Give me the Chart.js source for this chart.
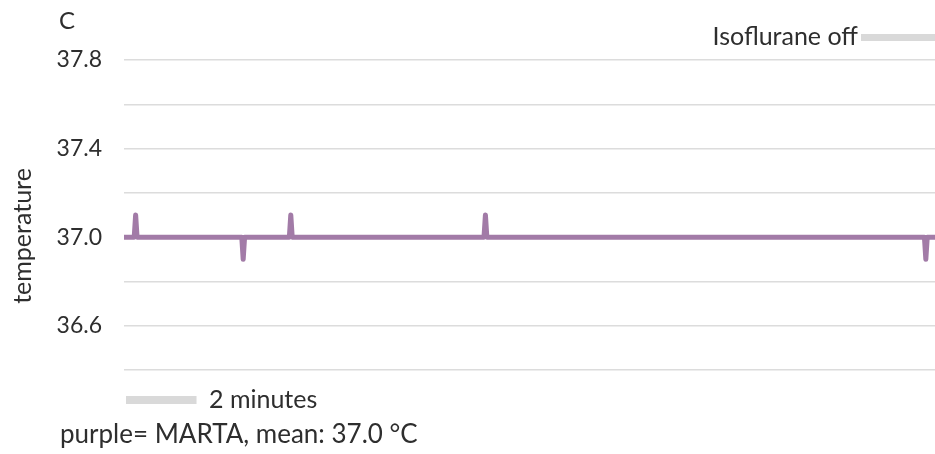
<!DOCTYPE html>
<html>
<head>
<meta charset="utf-8">
<script src="https://cdn.jsdelivr.net/npm/chart.js@4/dist/chart.umd.min.js"></script>
<style>
  html, body { margin: 0; padding: 0; background: #fff; }
  #wrap { width: 935px; height: 454px; }
</style>
</head>
<body>
<div id="wrap"><canvas id="chart" width="935" height="454"></canvas></div>
<script>
// time in minutes, temperature in °C
const timeMin = [0, 0.29, 0.33, 0.37, 3.34, 3.38, 3.42, 4.69, 4.73, 4.77, 10.21, 10.25, 10.29, 22.70, 22.74, 22.78, 23];
const tempC   = [37.0, 37.0, 37.1, 37.0, 37.0, 36.9, 37.0, 37.0, 37.1, 37.0, 37.0, 37.1, 37.0, 37.0, 36.9, 37.0, 37.0];
const tickLabels = ['37.8', '37.4', '37.0', '36.6'];
const scaleBarMinutes = 2;

const FONT = 'Lato, "Noto Sans", sans-serif';
const TEXT = '#2e2e2e';
const GREY_BAR = '#d9d9d9';

const annotations = {
    id: 'annotations',
    afterDraw(chart) {
        const ctx = chart.ctx;
        const x = chart.scales.x;
        const area = chart.chartArea;
        ctx.save();
        ctx.fillStyle = TEXT;
        ctx.textBaseline = 'middle';

        // panel letter
        ctx.font = '24px ' + FONT;
        ctx.textAlign = 'left';
        ctx.fillText('C', 59, 21);

        // isoflurane marker
        ctx.font = '25px ' + FONT;
        ctx.textAlign = 'right';
        ctx.fillText('Isoflurane off', 858, 37);
        ctx.fillStyle = GREY_BAR;
        ctx.fillRect(861, 34, area.right - 861, 7);

        // time scale bar
        const x0 = x.getPixelForValue(0) + 2;
        const x1 = x.getPixelForValue(scaleBarMinutes) + 2;
        ctx.fillRect(x0, 396, x1 - x0, 8);
        ctx.fillStyle = TEXT;
        ctx.textAlign = 'left';
        ctx.fillText('2 minutes', 209, 400);

        // footer
        ctx.font = '26px ' + FONT;
        ctx.fillText('purple= MARTA, mean: 37.0 °C', 60, 435);

        // axis title
        ctx.font = '25px ' + FONT;
        ctx.translate(23, 236);
        ctx.rotate(-Math.PI / 2);
        ctx.textAlign = 'center';
        ctx.fillText('temperature', 0, 0);
        ctx.restore();
    }
};

new Chart(document.getElementById('chart'), {
    type: 'line',
    data: {
        datasets: [{
            data: timeMin.map((t, i) => ({ x: t, y: tempC[i] })),
            borderColor: '#a27ba7',
            borderWidth: 5,
            borderCapStyle: 'round',
            borderJoinStyle: 'round',
            pointRadius: 0,
            tension: 0,
            fill: false
        }]
    },
    options: {
        responsive: false,
        animation: false,
        layout: { padding: { top: 60, bottom: 84, left: 0, right: 0 } },
        plugins: {
            legend: { display: false },
            tooltip: { enabled: false }
        },
        scales: {
            x: {
                type: 'linear',
                min: 0,
                max: 23,
                display: false
            },
            y: {
                min: 36.4,
                max: 37.8,
                afterFit(scale) { scale.width = 124; },
                border: { display: false },
                grid: { color: '#dcdcdc', lineWidth: 1.5, drawTicks: false },
                ticks: {
                    stepSize: 0.2,
                    padding: 22,
                    color: TEXT,
                    font: { family: FONT, size: 23 },
                    callback: (v) => {
                        const s = v.toFixed(1);
                        return tickLabels.includes(s) ? s : '';
                    }
                }
            }
        }
    },
    plugins: [annotations]
});
</script>
</body>
</html>
